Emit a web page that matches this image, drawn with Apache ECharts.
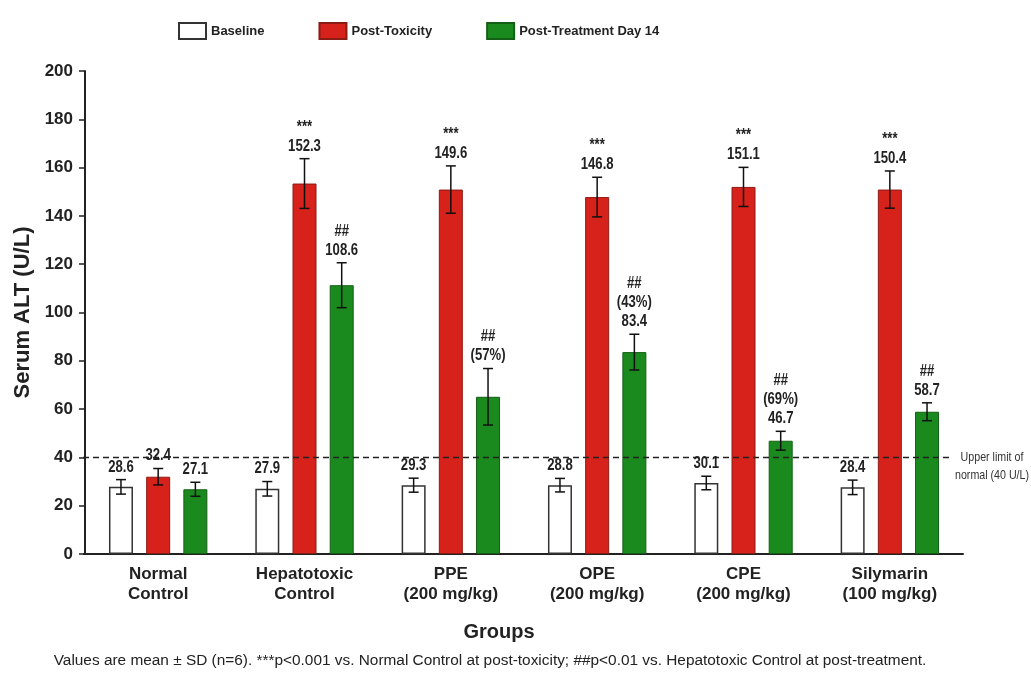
<!DOCTYPE html>
<html>
<head>
<meta charset="utf-8">
<script src="https://cdn.jsdelivr.net/npm/echarts@6/dist/echarts.min.js"></script>
<style>
html,body{margin:0;padding:0;background:#fff;}
#chart{width:1031px;height:673px;}
</style>
</head>
<body>
<div id="chart"></div>
<script>
// ---- data ----
const categories = ['Normal\nControl', 'Hepatotoxic\nControl', 'PPE\n(200 mg/kg)', 'OPE\n(200 mg/kg)', 'CPE\n(200 mg/kg)', 'Silymarin\n(100 mg/kg)'];
const seriesNames = ['Baseline', 'Post-Toxicity', 'Post-Treatment Day 14'];

const baselineMean = [27.8, 27.0, 28.5, 28.5, 29.4, 27.6];
const baselineSD   = [3.0, 3.0, 2.9, 2.8, 2.8, 3.0];
const baselineText = ['28.6', '27.9', '29.3', '28.8', '30.1', '28.4'];

const toxMean = [32.0, 153.4, 150.9, 147.8, 152.0, 150.9];
const toxSD   = [3.4, 10.3, 9.8, 8.2, 8.1, 7.7];
const toxText = ['32.4', '152.3', '149.6', '146.8', '151.1', '150.4'];
const toxSig  = ['', '***', '***', '***', '***', '***'];

const treatMean = [26.8, 111.3, 65.1, 83.6, 46.9, 58.9];
const treatSD   = [2.9, 9.3, 11.7, 7.4, 3.9, 3.7];
const treatText = ['27.1', '108.6', '', '83.4', '46.7', '58.7'];
const treatPct  = ['', '', '(57%)', '(43%)', '(69%)', ''];
const treatSig  = ['', '##', '##', '##', '##', '##'];

const yTicks = [0, 20, 40, 60, 80, 100, 120, 140, 160, 180, 200];
const upperLimit = 40;
const upperLimitText = 'Upper limit of\nnormal (40 U/L)';
const xAxisTitle = 'Groups';
const yAxisTitle = 'Serum ALT (U/L)';
const footnote = 'Values are mean \u00b1 SD (n=6). ***p<0.001 vs. Normal Control at post-toxicity; ##p<0.01 vs. Hepatotoxic Control at post-treatment.';

// ---- styling ----
const FONT = "'Liberation Sans', Arial, sans-serif";
const CONDENSE = 0.82;
const BAR_W = 24;
const GAP_PX = 13.2;
const STEP = BAR_W + GAP_PX;
const colors = ['#ffffff', '#D6221A', '#1B8A1E'];
const borders = ['#333333', '#8a1c14', '#145f16'];

function labelLines(i, k) {
  const lines = [];
  if (k === 0) { lines.push(baselineText[i]); }
  else if (k === 1) { if (toxSig[i]) lines.push(toxSig[i]); lines.push(toxText[i]); }
  else {
    if (treatSig[i]) lines.push(treatSig[i]);
    if (treatPct[i]) lines.push(treatPct[i]);
    if (treatText[i]) lines.push(treatText[i]);
  }
  return lines.join('\n');
}

function errSeries(k, means, sds) {
  return {
    type: 'custom',
    name: seriesNames[k] + ' SD',
    z: 5,
    silent: true,
    data: means.map((m, i) => [i, m, sds[i]]),
    encode: { x: 0, y: 1 },
    renderItem: function (params, api) {
      const idx = api.value(0), m = api.value(1), sd = api.value(2);
      const off = (k - 1) * STEP;
      const c = api.coord([idx, m]);
      const x = c[0] + off;
      const yTop = api.coord([idx, m + sd])[1];
      const yBot = api.coord([idx, m - sd])[1];
      const st = { stroke: '#111', lineWidth: 1.5 };
      return {
        type: 'group',
        children: [
          { type: 'line', shape: { x1: x, y1: yTop, x2: x, y2: yBot }, style: st },
          { type: 'line', shape: { x1: x - 5, y1: yTop, x2: x + 5, y2: yTop }, style: st },
          { type: 'line', shape: { x1: x - 5, y1: yBot, x2: x + 5, y2: yBot }, style: st },
          { type: 'text', x: x, y: yTop - 3, scaleX: CONDENSE,
            style: { text: labelLines(params.dataIndex, k), textAlign: 'center', textVerticalAlign: 'bottom',
                     font: 'bold 16px ' + FONT, lineHeight: 19, fill: '#222' } }
        ]
      };
    }
  };
}

const chart = echarts.init(document.getElementById('chart'), null, { renderer: 'canvas' });

const option = {
  backgroundColor: '#ffffff',
  animation: false,
  textStyle: { fontFamily: FONT },
  legend: {
    data: seriesNames,
    left: 173, top: 17,
    itemWidth: 27, itemHeight: 16, itemGap: 54,
    icon: 'rect',
    textStyle: { fontSize: 13, fontWeight: 'bold', color: '#222', fontFamily: FONT }
  },
  grid: { left: 85, right: 68, top: 71, bottom: 119, containLabel: false },
  xAxis: {
    type: 'category',
    data: categories,
    axisLine: { lineStyle: { color: '#222', width: 2 } },
    axisTick: { show: false },
    axisLabel: { interval: 0, margin: 10, fontSize: 17, fontWeight: 'bold', color: '#222', lineHeight: 20, fontFamily: FONT }
  },
  yAxis: {
    type: 'value', min: 0, max: 200, interval: 20,
    name: yAxisTitle, nameLocation: 'middle', nameGap: 51,
    nameTextStyle: { fontSize: 22, fontWeight: 'bold', color: '#222', fontFamily: FONT },
    axisLine: { show: true, lineStyle: { color: '#222', width: 2 } },
    axisTick: { show: true, length: 6, lineStyle: { color: '#222', width: 1.5 } },
    splitLine: { show: false },
    axisLabel: { margin: 12, fontSize: 17, fontWeight: 'bold', color: '#222', fontFamily: FONT,
                 formatter: v => (yTicks.indexOf(v) >= 0 ? String(v) : '') }
  },
  series: [
    { type: 'bar', name: seriesNames[0], data: baselineMean, barWidth: BAR_W, barGap: (GAP_PX / BAR_W * 100) + '%',
      itemStyle: { color: colors[0], borderColor: borders[0], borderWidth: 1.5 } },
    { type: 'bar', name: seriesNames[1], data: toxMean, barWidth: BAR_W, barGap: (GAP_PX / BAR_W * 100) + '%',
      itemStyle: { color: colors[1], borderColor: borders[1], borderWidth: 1 } },
    { type: 'bar', name: seriesNames[2], data: treatMean, barWidth: BAR_W, barGap: (GAP_PX / BAR_W * 100) + '%',
      itemStyle: { color: colors[2], borderColor: borders[2], borderWidth: 1 } },
    errSeries(0, baselineMean, baselineSD),
    errSeries(1, toxMean, toxSD),
    errSeries(2, treatMean, treatSD)
  ]
};
chart.setOption(option);

// reference line + texts positioned with the library's own scale
const y40 = chart.convertToPixel({ yAxisIndex: 0 }, upperLimit);
const y0 = chart.convertToPixel({ yAxisIndex: 0 }, 0);
chart.setOption({
  graphic: [
    { type: 'line', silent: true, z: 3, shape: { x1: 83, y1: y40, x2: 950, y2: y40 },
      style: { stroke: '#222', lineWidth: 1.5, lineDash: [6, 4] } },
    { type: 'text', silent: true, x: 992, y: y40 - 9, scaleX: CONDENSE,
      style: { text: upperLimitText, textAlign: 'center', textVerticalAlign: 'top', font: '13px ' + FONT, lineHeight: 18, fill: '#333' } },
    { type: 'line', silent: true, z: 3, shape: { x1: 83, y1: y0, x2: 90, y2: y0 },
      style: { stroke: '#222', lineWidth: 2 } },
    { type: 'text', silent: true, x: 499, y: 632,
      style: { text: xAxisTitle, textAlign: 'center', textVerticalAlign: 'middle', font: 'bold 20px ' + FONT, fill: '#222' } },
    { type: 'text', silent: true, x: 490, y: 661,
      style: { text: footnote, textAlign: 'center', textVerticalAlign: 'middle', font: '15.4px ' + FONT, fill: '#222' } }
  ]
});
</script>
</body>
</html>
